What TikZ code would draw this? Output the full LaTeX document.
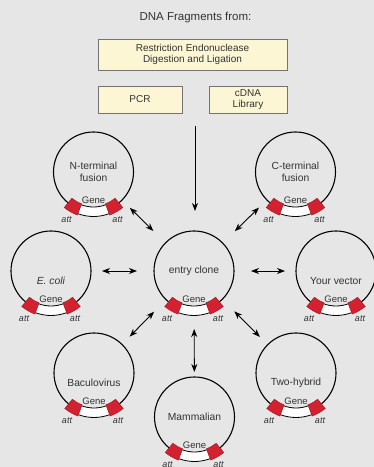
\documentclass[tikz,border=0pt]{standalone}
\usepackage{fontspec}
\setmainfont{Liberation Sans}
\usetikzlibrary{arrows.meta}
\definecolor{mbg}{rgb}{0.902, 0.902, 0.902}
\definecolor{mink}{rgb}{0.2, 0.2, 0.2}
\definecolor{mbox}{rgb}{0.988, 0.965, 0.835}
\definecolor{mred}{rgb}{0.83, 0.13, 0.19}
\tikzset{mtip/.tip = {Stealth[length=8pt, width=6pt, inset=2.5pt]}}
\tikzset{plasmid/.style = {draw=black, line width=1.1pt, circle, minimum size=80pt,
                           inner sep=0, outer sep=0, align=center}}
\tikzset{srcbox/.style = {draw=black!55, fill=mbox, line width=0.6pt, align=center,
                          inner sep=0, font=\fontsize{10}{11.5}\selectfont}}
\tikzset{genetext/.style = {inner sep=0, font=\fontsize{9.5}{11}\selectfont}}
\tikzset{atttext/.style = {inner sep=0, font=\fontsize{9}{10}\selectfont\itshape}}
\tikzset{lr/.style = {mtip-mtip, line width=0.9pt, shorten <=17pt, shorten >=11pt}}
\tikzset{feed/.style = {-mtip, line width=0.8pt, shorten >=20pt}}
\newcommand{\geneinsert}[1]{%
  \fill[white] ([shift={(-110.5:35pt)}]#1.center) arc[start angle=-110.5, end angle=-69.5, radius=35pt]
    -- ([shift={(-69.5:44.5pt)}]#1.center) arc[start angle=-69.5, end angle=-110.5, radius=44.5pt] -- cycle;
  \draw[line width=0.8pt] ([shift={(-110.5:35pt)}]#1.center) arc[start angle=-110.5, end angle=-69.5, radius=35pt];
  \draw[line width=0.8pt] ([shift={(-110.5:44.5pt)}]#1.center) arc[start angle=-110.5, end angle=-69.5, radius=44.5pt];
  \filldraw[fill=mred, draw=mred!70!black, line width=0.4pt] ([shift={(-129.5:34pt)}]#1.center)
    arc[start angle=-129.5, end angle=-110.5, radius=34pt]
    -- ([shift={(-110.5:46pt)}]#1.center) arc[start angle=-110.5, end angle=-129.5, radius=46pt] -- cycle;
  \filldraw[fill=mred, draw=mred!70!black, line width=0.4pt] ([shift={(-69.5:34pt)}]#1.center)
    arc[start angle=-69.5, end angle=-50.5, radius=34pt]
    -- ([shift={(-50.5:46pt)}]#1.center) arc[start angle=-50.5, end angle=-69.5, radius=46pt] -- cycle;
  \node[genetext] (#1-gene) at ([yshift=-28pt]#1.center) {Gene};
  \node[atttext] (#1-attl) at ([shift={(-27pt,-47.5pt)}]#1.center) {att};
  \node[atttext] (#1-attr) at ([shift={(24pt,-47.5pt)}]#1.center) {att};
}

\begin{document}
\begin{tikzpicture}[x=1pt, y=1pt, font=\fontsize{10.3}{12}\selectfont, text=mink]
  \fill[mbg] (0,0) rectangle (374,467);
  \useasboundingbox (0,0) rectangle (374,467);

  % sources
  \node (title) at (195.5,449) {\fontsize{11.5}{13}\selectfont DNA Fragments from:};
  \node[srcbox, minimum width=189pt, minimum height=31pt] (digest) at (192.5,412.5) {Restriction Endonuclease\\Digestion and Ligation};
  \node[srcbox, minimum width=84pt, minimum height=27pt] (pcr) at (140,367.5) {PCR};
  \node[srcbox, minimum width=78pt, minimum height=27pt] (cdna) at (248,367.5) {cDNA\\Library};

  % plasmids
  \node[plasmid] (entry) at (194,196) {entry clone};
  \node[plasmid] (nterm) at (93.5,295) {N-terminal\\fusion};
  \node[plasmid] (cterm) at (295.5,295) {C-terminal\\fusion};
  \node[plasmid] (ecoli) at (51,196) {};
  \node (ecoli-t) at ([yshift=-10pt]ecoli.center) {\textit{E. coli}};
  \node[plasmid] (yvec) at (336,196) {};
  \node (yvec-t) at ([yshift=-10pt]yvec.center) {Your vector};
  \node[plasmid] (bac) at (94,94) {};
  \node (bac-t) at ([yshift=-10pt]bac.center) {Baculovirus};
  \node[plasmid] (twohyb) at (296,94) {};
  \node (twohyb-t) at ([yshift=-10pt]twohyb.center) {Two-hybrid};
  \node[plasmid] (mamm) at (194.5,50) {Mammalian};

  \geneinsert{entry}
  \geneinsert{nterm}
  \geneinsert{cterm}
  \geneinsert{ecoli}
  \geneinsert{yvec}
  \geneinsert{bac}
  \geneinsert{twohyb}
  \geneinsert{mamm}

  % arrows
  \coordinate (src) at (195,341);
  \draw[feed] (src) -- (src |- entry.north);
  \draw[lr] (entry) -- (nterm);
  \draw[lr] (entry) -- (cterm);
  \draw[lr] (entry) -- (ecoli);
  \draw[lr] (entry) -- (yvec);
  \draw[lr] (entry) -- (bac);
  \draw[lr] (entry) -- (twohyb);
  \draw[lr, shorten <=18pt, shorten >=5pt] (entry) -- (mamm);
\end{tikzpicture}
\end{document}
